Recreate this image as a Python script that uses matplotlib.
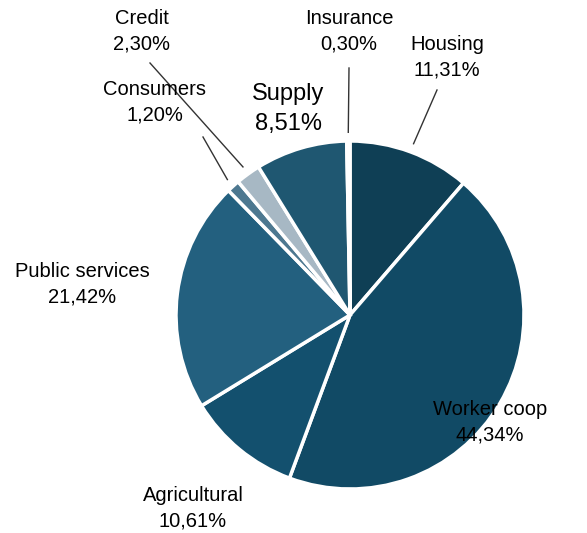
import numpy as np
import matplotlib.pyplot as plt

plt.rcParams['font.family'] = ['Liberation Sans', 'DejaVu Sans']

# share of cooperatives by sector, clockwise from the top
sectors = ['Housing', 'Worker coop', 'Agricultural', 'Public services',
           'Consumers', 'Credit', 'Supply', 'Insurance']
shares = [11.31, 44.34, 10.61, 21.42, 1.20, 2.30, 8.51, 0.30]
colors = ['#0f3f55', '#114a65', '#13506e', '#23607f',
          '#4d7890', '#a7b8c4', '#1f5771', '#f4f6f7']

# label centres in pixels (x, y from top) and which ones get a leader line
label_pos = [(447, 57), (490, 422), (193, 508), (82, 284),
             (155, 102), (142, 31), (288, 109), (349, 31)]
leader_from = {0: (437, 90), 4: (203, 137), 5: (150, 63), 7: (349, 68)}

W, H = 587, 533
cx, cy, r = 350, 218, 174

fig = plt.figure(figsize=(W / 100, H / 100), dpi=100)
ax = fig.add_axes([0, 0, 1, 1])

wedges, _ = ax.pie(shares, colors=colors, startangle=90, counterclock=False,
                   center=(cx, cy), radius=r,
                   wedgeprops=dict(edgecolor='white', linewidth=2.5))
ax.set_xlim(0, W)
ax.set_ylim(0, H)
ax.set_aspect('equal')
ax.axis('off')

for i, (name, val) in enumerate(zip(sectors, shares)):
    x, y = label_pos[i]
    size = 17 if name == 'Supply' else 14.5
    txt = f"{name}\n{val:.2f}%".replace('.', ',')
    ax.text(x, H - y, txt, ha='center', va='center', fontsize=size,
            linespacing=1.45, color='black')
    if i in leader_from:
        w = wedges[i]
        ang = np.deg2rad((w.theta1 + w.theta2) / 2)
        ex, ey = cx + 1.05 * r * np.cos(ang), cy + 1.05 * r * np.sin(ang)
        sx, sy = leader_from[i]
        ax.plot([sx, ex], [H - sy, ey], color='#333333', lw=1)

fig.savefig('out.png', dpi=100)
